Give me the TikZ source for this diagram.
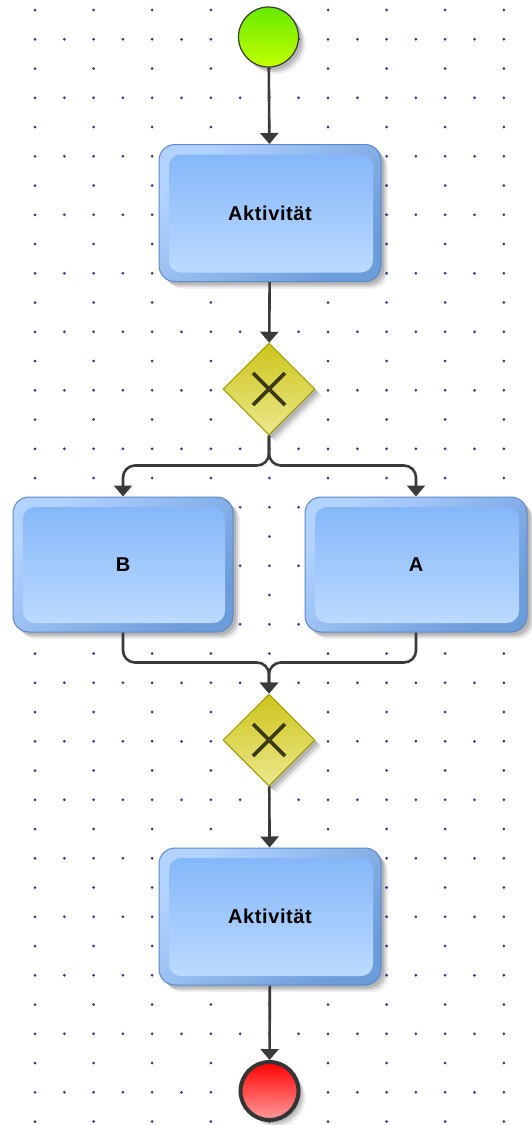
\documentclass[tikz,border=0pt]{standalone}
\usepackage{fontspec}
\newfontfamily\lblfont{Liberation Sans}[LetterSpace=3]
\usetikzlibrary{shapes.geometric,arrows.meta,shadows,calc}

\definecolor{gridc}{HTML}{34348A}
\definecolor{taskedge}{HTML}{5B89C9}
\definecolor{taskhi}{HTML}{B2D2FF}
\definecolor{tasklo}{HTML}{6C9CDA}
\definecolor{taskin1}{HTML}{80B4F8}
\definecolor{taskin2}{HTML}{C0DDFF}
\definecolor{gwedge}{HTML}{9C9800}
\definecolor{gwtop}{HTML}{CDC41A}
\definecolor{gwbot}{HTML}{ECE98E}
\definecolor{gwmark}{HTML}{3C3A10}
\definecolor{flowc}{HTML}{3A3A3A}
\definecolor{startA}{HTML}{66EA00}
\definecolor{startB}{HTML}{C4FF00}
\definecolor{endA}{HTML}{FF0000}
\definecolor{endB}{HTML}{FF9C9C}

\tikzset{
  % a few stacked shadows give a soft edge
  softshadow/.style={
    drop shadow={shadow xshift=3pt, shadow yshift=-3pt, opacity=0.12, fill=black},
    drop shadow={shadow xshift=5pt, shadow yshift=-5pt, opacity=0.12, fill=black},
    drop shadow={shadow xshift=7pt, shadow yshift=-7pt, opacity=0.07, fill=black}},
  task/.style={rectangle, rounded corners=16pt, minimum width=222pt, minimum height=137pt,
    inner sep=0pt, draw=taskedge, line width=1pt, softshadow,
    top color=taskhi, bottom color=tasklo, shading angle=45,
    font=\lblfont\bfseries\fontsize{20}{20}\selectfont,
    path picture={
      \shade[rounded corners=12pt, top color=taskin1, bottom color=taskin2]
        ($(path picture bounding box.south west)+(10pt,9pt)$) rectangle
        ($(path picture bounding box.north east)+(-8pt,-10pt)$);
    }},
  gateway/.style={diamond, aspect=1, minimum width=92pt, minimum height=92pt, inner sep=0pt,
    draw=gwedge, line width=1pt, softshadow, top color=gwtop, bottom color=gwbot,
    path picture={
      \draw[gwmark, line width=3.8pt]
        ($(path picture bounding box.center)+(-16pt,-16pt)$) -- ++(32pt,32pt)
        ($(path picture bounding box.center)+(-16pt,16pt)$) -- ++(32pt,-32pt);
    }},
  startevent/.style={circle, minimum size=60pt, inner sep=0pt, draw=flowc, line width=1.2pt,
    softshadow, top color=startA, bottom color=startB},
  endevent/.style={circle, minimum size=58pt, inner sep=0pt, draw=flowc!90!black, line width=4pt,
    softshadow, top color=endA, bottom color=endB},
  flow/.style={draw=flowc, line width=2.6pt, -{Triangle[width=18pt,length=11pt]}},
}

\begin{document}
\begin{tikzpicture}[x=1pt, y=1pt]
  % canvas
  \fill[white] (0,0) rectangle (531,-1125);
  \useasboundingbox (0,0) rectangle (531,-1125);

  % dotted grid: full rows alternate with rows holding every second dot
  \foreach \r in {0,...,38}{
    \foreach \c in {0,...,16}{
      \ifodd\r
        \fill[gridc] ({35+29.3*\c},{-10-29.25*\r}) circle (1.5pt);
      \else
        \ifodd\c\else
          \fill[gridc] ({35+29.3*\c},{-10-29.25*\r}) circle (1.5pt);
        \fi
      \fi
    }
  }

  % process elements
  \node[startevent] (start) at (268.5,-37) {};
  \node[task] (act1) at (270,-213) {Aktivität};
  \node[gateway] (gw1) at (269,-389) {};
  \node[task, minimum width=220pt, minimum height=135pt] (B) at (123,-564.5) {B};
  \node[task, minimum width=222pt, minimum height=135pt] (A) at (416,-564.5) {A};
  \node[gateway] (gw2) at (269,-740) {};
  \node[task] (act2) at (270,-916.5) {Aktivität};
  \node[endevent] (end) at (269.5,-1091) {};

  % sequence flows
  \draw[flow] (start) -- (act1);
  \draw[flow] (act1) -- (gw1);
  \draw[flow, rounded corners=12pt] (gw1.south) |- ([yshift=31pt]B.north) -- (B.north);
  \draw[flow, rounded corners=12pt] (gw1.south) |- ([yshift=31pt]A.north) -- (A.north);
  \draw[flow, rounded corners=12pt] (B.south) |- ([yshift=31pt]gw2.north) -- (gw2.north);
  \draw[flow, rounded corners=12pt] (A.south) |- ([yshift=31pt]gw2.north) -- (gw2.north);
  \draw[flow] (gw2) -- (act2);
  \draw[flow] (act2) -- (end);
\end{tikzpicture}
\end{document}
